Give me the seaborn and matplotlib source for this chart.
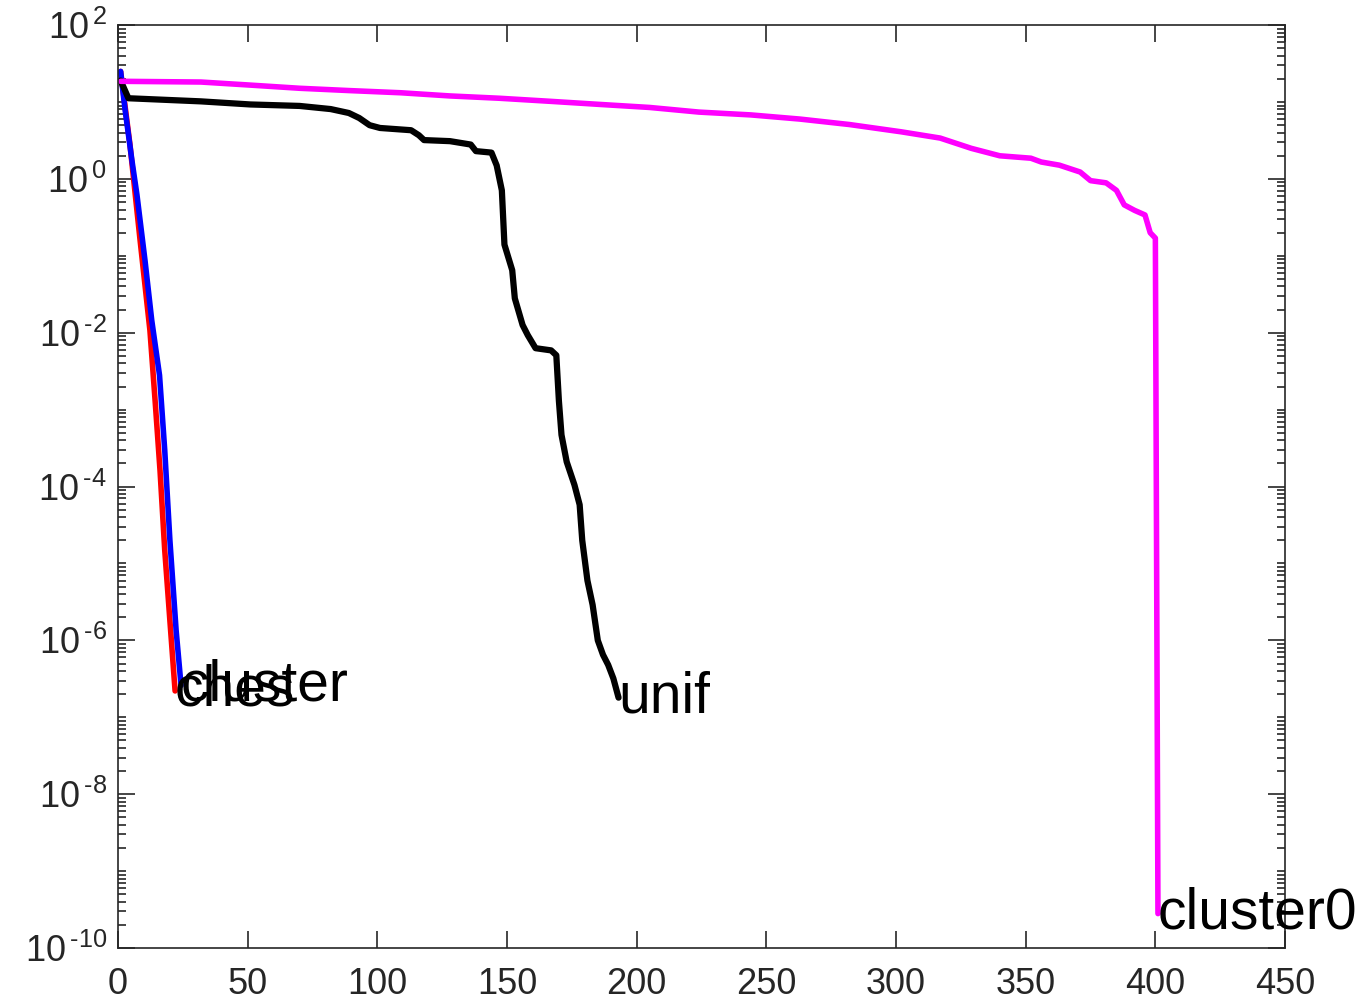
import numpy as np
import matplotlib
matplotlib.use("Agg")
import matplotlib.pyplot as plt
import matplotlib.ticker as mticker
import seaborn as sns

# Values (x = index, y = value on a log scale)
ches_x = [1, 4.6, 8.5, 12.3, 14.3, 16.2, 18, 20, 22]
ches_y = [25, 2.8, 0.16, 0.0107, 1.3e-3, 1.6e-4, 1.5e-5, 1.8e-6, 2.2e-7]

cluster_x = [1, 2.7, 5.4, 7.3, 10.4, 13, 16, 18, 20, 22.4, 24.3]
cluster_y = [25, 8, 1.7, 0.62, 0.087, 0.0145, 2.8e-3, 3.0e-4, 2.0e-5, 1.35e-6, 2.6e-7]

unif_x = [1, 4, 32, 51, 70, 82, 89, 93, 97, 101, 113, 116, 118, 128, 136, 138,
          144, 146, 148, 149, 152, 153, 156, 158, 161, 167, 169, 170, 171, 173,
          176, 178, 179, 181, 183, 185, 187, 189, 191, 193]
unif_y = [19, 11.2, 10.2, 9.3, 8.9, 8.1, 7.2, 6.2, 5.0, 4.6, 4.3, 3.7, 3.2, 3.1,
          2.8, 2.3, 2.2, 1.5, 0.71, 0.14, 0.065, 0.028, 0.0126, 0.0093, 0.0063,
          0.0059, 0.0051, 1.3e-3, 4.7e-4, 2.1e-4, 1.05e-4, 5.8e-5, 2.0e-5, 6.0e-6,
          2.9e-6, 1.0e-6, 6.5e-7, 4.8e-7, 3.2e-7, 1.8e-7]

cluster0_x = [1, 32, 51, 70, 89, 109, 128, 147, 167, 186, 205, 224, 244, 263,
              282, 302, 317, 329, 340, 352, 356, 363, 371, 375, 381, 385, 388,
              392, 396, 398, 400, 401]
cluster0_y = [18.6, 18.2, 16.6, 15.1, 14.1, 13.2, 12.0, 11.2, 10.2, 9.3, 8.5,
              7.4, 6.8, 6.0, 5.1, 4.1, 3.4, 2.5, 2.0, 1.86, 1.66, 1.51, 1.23,
              0.95, 0.89, 0.71, 0.46, 0.39, 0.34, 0.20, 0.17, 2.8e-10]

y_exponents = [-10, -8, -6, -4, -2, 0, 2]

series = [
    ("ches", ches_x, ches_y, "#ff0000", 4),
    ("cluster", cluster_x, cluster_y, "#0000ff", 4),
    ("unif", unif_x, unif_y, "#000000", 4.5),
    ("cluster0", cluster0_x, cluster0_y, "#ff00ff", 4),
]

sns.set_style("white")
plt.rcParams['font.family'] = ['Liberation Sans', 'DejaVu Sans']
plt.rcParams['mathtext.fontset'] = 'custom'
plt.rcParams['mathtext.rm'] = 'Liberation Sans'

fig = plt.figure(figsize=(13.63, 10.05), dpi=100)
ax = fig.add_axes([0.0866, 0.0567, 0.8562, 0.9183])
ax.set_yscale('log')

for name, xs, ys, col, lw in series:
    sns.lineplot(x=xs, y=ys, ax=ax, color=col, linewidth=lw, sort=False,
                 estimator=None)
    ax.text(xs[-1], ys[-1], name, fontsize=41, ha='left', va='center',
            color='black', clip_on=False)

ax.set_xlim(0, 450)
ax.set_ylim(1e-10, 1e2)
ax.set_xticks(np.arange(0, 451, 50))
ax.yaxis.set_major_locator(mticker.FixedLocator([10.0 ** k for k in y_exponents]))
ax.yaxis.set_major_formatter(mticker.FixedFormatter(
    [r"$\mathdefault{10^{\,\text{%d}}}$" % k for k in y_exponents]))
ax.yaxis.set_minor_locator(mticker.LogLocator(base=10, subs=np.arange(1, 10), numticks=50))
ax.yaxis.set_minor_formatter(mticker.NullFormatter())

ax.tick_params(which='both', direction='in', left=True, bottom=True,
               top=True, right=True, colors='#262626', labelsize=26, width=1.2)
ax.tick_params(which='major', length=12)
ax.tick_params(which='minor', length=6)
ax.tick_params(axis='x', pad=14)
ax.tick_params(axis='y', pad=8)
for sp in ax.spines.values():
    sp.set_color('#262626')
    sp.set_linewidth(1.2)

fig.savefig('out.png', dpi=100)
